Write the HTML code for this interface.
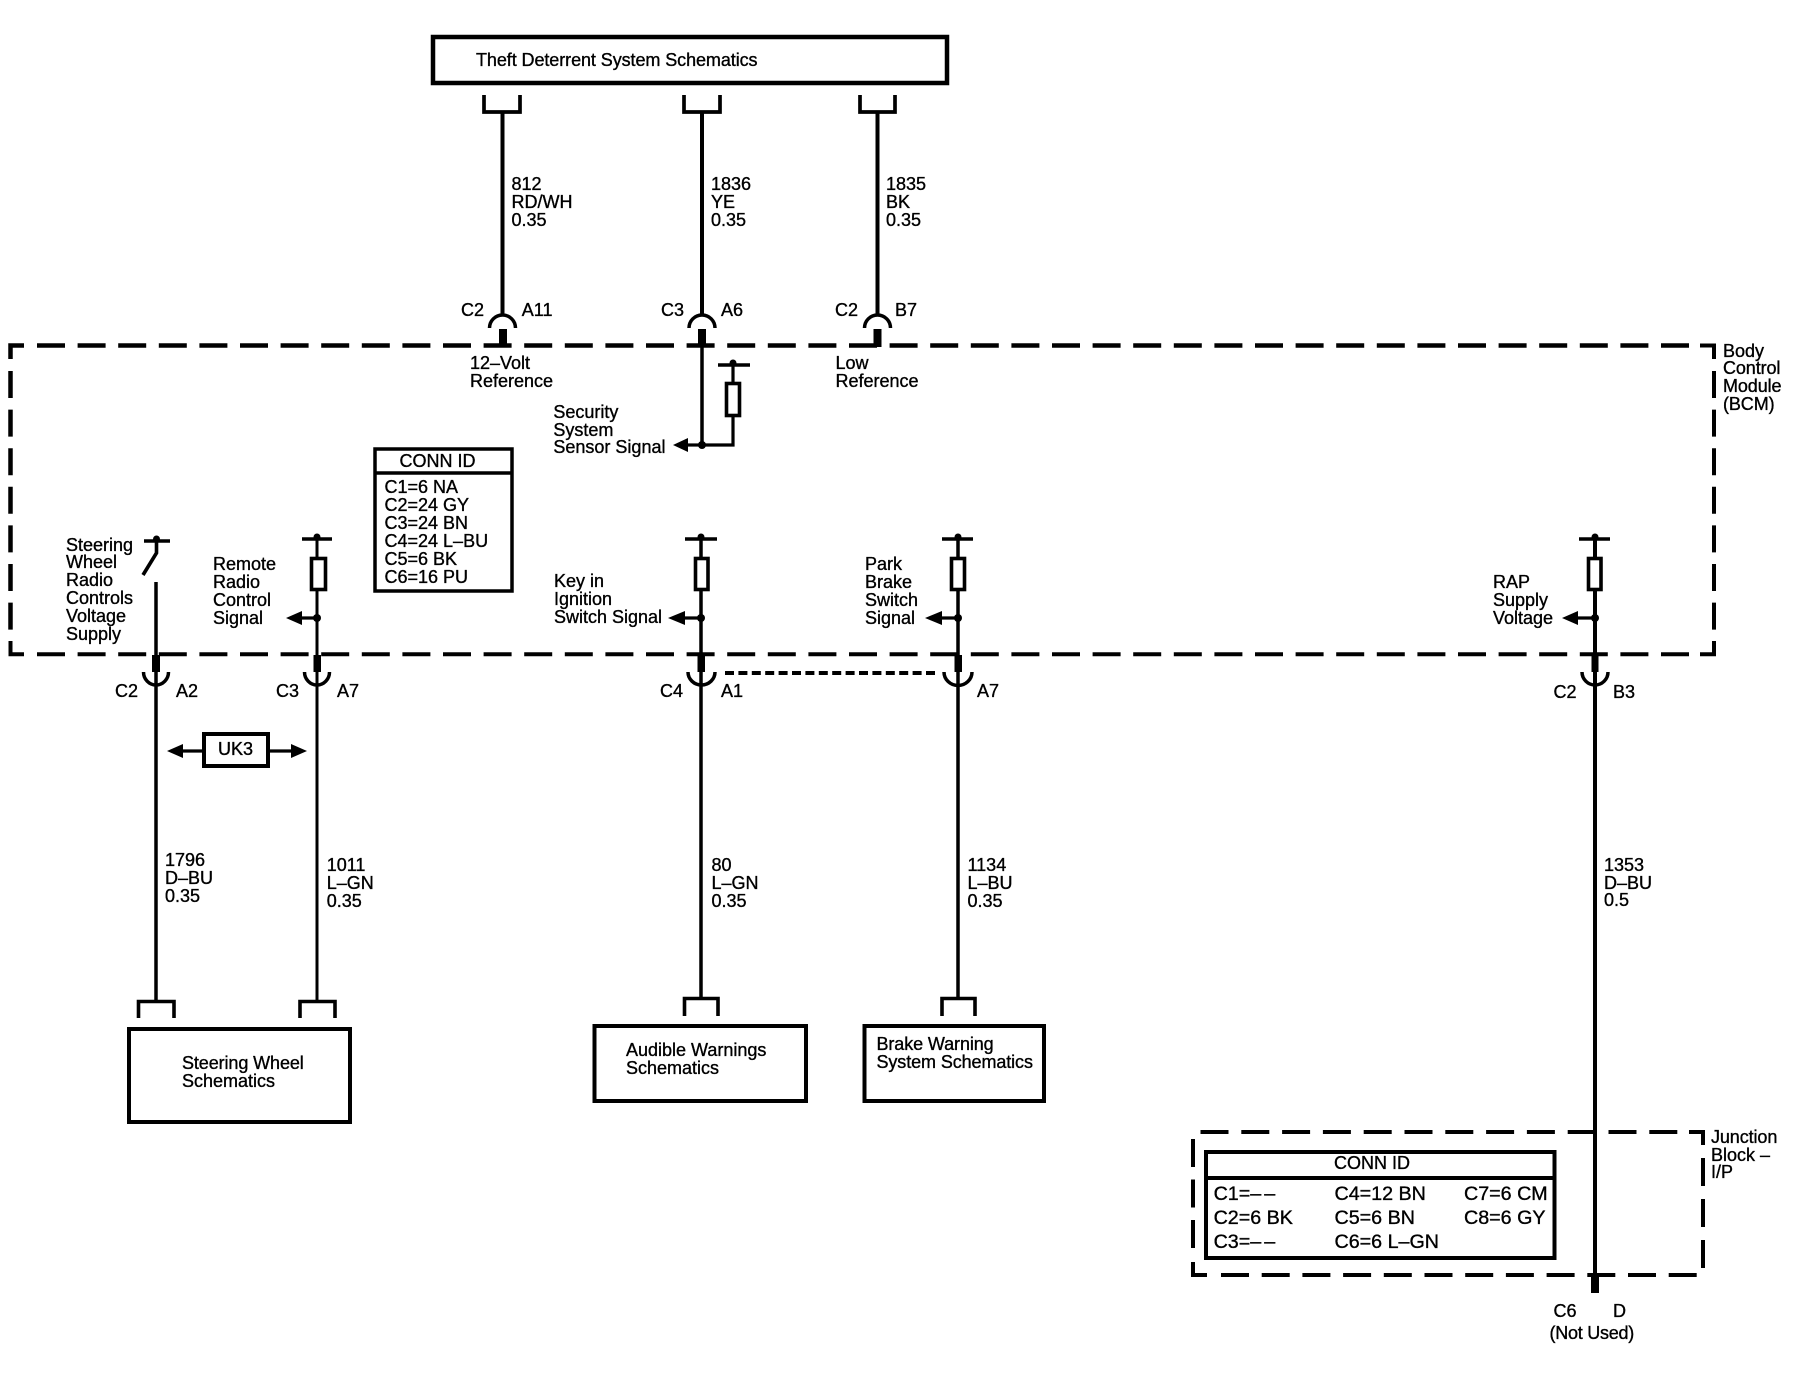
<!DOCTYPE html>
<html>
<head>
<meta charset="utf-8">
<title>Theft Deterrent System Wiring Schematic</title>
<style>
html,body{margin:0;padding:0;background:#fff}
svg{display:block}
text{font-family:"Liberation Sans",sans-serif;font-size:18px;fill:#000;stroke:#000;stroke-width:.35px}
text.b{font-size:19.7px}
text.n{letter-spacing:-.1px}
.l{fill:none;stroke:#000;stroke-linecap:butt;stroke-linejoin:miter}
.r rect{fill:#fff;stroke:#000}
</style>
</head>
<body>
<svg width="1814" height="1376" viewBox="0 0 1814 1376" xmlns="http://www.w3.org/2000/svg">
<rect width="1814" height="1376" fill="#fff"/>

<!-- BCM dashed boundary -->
<g class="l" stroke-width="4.5">
<path d="M37,345.5H1690" stroke-dasharray="28 12.6"/>
<path d="M37,654.3H1690" stroke-dasharray="28 12.6" stroke-width="4"/>
<path d="M24,345.5H10.5V359"/>
<path d="M1700,345.5H1714V359" stroke-width="4"/>
<path d="M10.5,641V654.3H24" stroke-width="4"/>
<path d="M1714,641V654.3H1700" stroke-width="4"/>
<path d="M10.5,371V630" stroke-dasharray="27 11.6"/>
<path d="M1714,371V630" stroke-dasharray="27 11.6" stroke-width="4"/>
</g>

<!-- Junction block dashed boundary -->
<g class="l" stroke-width="4">
<path d="M1200.5,1132H1680" stroke-dasharray="28 12.8"/>
<path d="M1689,1132H1703V1145"/>
<path d="M1193,1139V1250" stroke-dasharray="28 12.5"/>
<path d="M1193,1262V1275H1207"/>
<path d="M1221,1275H1697" stroke-dasharray="28 12.7"/>
<path d="M1703,1158V1269" stroke-dasharray="28 13"/>
</g>

<!-- Schematic boxes -->
<g class="l" stroke-width="4">
<rect x="433" y="37" width="514" height="46" stroke-width="4.5"/>
<rect x="129" y="1029" width="221" height="93"/>
<rect x="594.5" y="1026" width="211.5" height="75"/>
<rect x="864.5" y="1026" width="179.5" height="75"/>
<rect x="375" y="449" width="137" height="142" stroke-width="3.5"/>
<rect x="1206" y="1152" width="348.5" height="106"/>
<rect x="204" y="734" width="64" height="32"/>
</g>
<path class="l" stroke-width="3.5" d="M375,473H512"/>
<path class="l" stroke-width="4" d="M1206,1178H1554.5"/>

<!-- Top connector cups -->
<g class="l" stroke-width="3.7">
<path d="M484,95V112H520V95"/>
<path d="M684,95V112H720V95"/>
<path d="M860,95V112H895V95"/>
</g>

<!-- Wires -->
<g class="l">
<path stroke-width="4" d="M502.5,113V315"/>
<path stroke-width="4" d="M702,113V315"/>
<path stroke-width="4" d="M877.5,113V315"/>
<path stroke-width="3.5" d="M702,347V445"/>
<path stroke-width="3.2" d="M702,445H733V365"/>

<path stroke-width="3.5" d="M156,582V1000"/>
<path stroke-width="3" d="M317,539V1000"/>
<path stroke-width="3.5" d="M701,539V997"/>
<path stroke-width="3.5" d="M958,539V997"/>
<path stroke-width="4" d="M1595,539V1274"/>
</g>

<!-- Top C-connectors -->
<g class="l" stroke-width="3.5">
<path d="M489.5,328A13,13 0 0 1 515.5,328"/>
<path d="M689,328A13,13 0 0 1 715,328"/>
<path d="M864.5,328A13,13 0 0 1 890.5,328"/>
<!-- bottom C-connectors -->
<path d="M143.5,672A12.5,13 0 0 0 168.5,672"/>
<path d="M304.5,672A12.5,13 0 0 0 329.5,672"/>
<path d="M688,672A13.5,13 0 0 0 715,672"/>
<path d="M944,672A13.5,13 0 0 0 972,672"/>
<path d="M1582,672A13,13 0 0 0 1608,672"/>
</g>

<!-- Thick stubs -->
<g fill="#000">
<rect x="499" y="329" width="8" height="18"/>
<rect x="698" y="329" width="8" height="18"/>
<rect x="873.5" y="329" width="8" height="18"/>
<rect x="152" y="655" width="8" height="17"/>
<rect x="313.5" y="655" width="7.5" height="17"/>
<rect x="697.5" y="655" width="7.5" height="17"/>
<rect x="954.5" y="655" width="7.5" height="17"/>
<rect x="1591.5" y="655" width="7" height="17"/>
<rect x="1591" y="1275" width="8" height="18"/>
</g>

<!-- Dotted link -->
<path class="l" stroke-width="4" stroke-dasharray="9 4.4" d="M725,673H938"/>

<!-- Bottom cups -->
<g class="l" stroke-width="3.6">
<path d="M138.5,1018V1001.5H174V1018"/>
<path d="M300,1018V1001.5H335V1018"/>
<path d="M684.5,1016V998.5H718V1016"/>
<path d="M942,1016V998.5H975V1016"/>
</g>

<!-- Pull-up bars, resistors -->
<g class="l" stroke-width="3.6">
<path d="M144,541H170"/>
<path d="M302,539H332"/>
<path d="M685,539H717"/>
<path d="M942,539H973"/>
<path d="M1579,539H1610"/>
<path d="M718,365H750"/>
</g>
<g class="r" stroke-width="3.6">
<rect x="311.5" y="558.5" width="14" height="31"/>
<rect x="695.5" y="558.5" width="12.5" height="31"/>
<rect x="951.5" y="558.5" width="13" height="31"/>
<rect x="1588.5" y="558.5" width="12.5" height="31"/>
<rect x="726.5" y="383.5" width="13" height="32"/>
</g>

<!-- Steering switch -->
<path class="l" stroke-width="3.6" d="M156.5,541V553L143,575"/>

<!-- Arrow stems -->
<g class="l" stroke-width="3.2">
<path d="M300,618H317"/>
<path d="M683,618H701"/>
<path d="M940,618H958"/>
<path d="M1576,618H1595"/>
<path d="M686,445H702"/>
<path d="M183,751H204"/>
<path d="M268,751H292"/>
</g>

<!-- Arrowheads -->
<g fill="#000">
<polygon points="286,618 302,611 302,625"/>
<polygon points="668,618 685,611 685,625"/>
<polygon points="925,618 942,611 942,625"/>
<polygon points="1562,618 1578,611 1578,625"/>
<polygon points="673,445 688,438 688,452"/>
<polygon points="167,751 183,744 183,758"/>
<polygon points="307,751 291,744 291,758"/>
</g>

<!-- Dots -->
<g fill="#000">
<circle cx="156.5" cy="539" r="3.5"/>
<circle cx="317" cy="537" r="3.5"/>
<circle cx="701" cy="537" r="3.5"/>
<circle cx="958" cy="537" r="3.5"/>
<circle cx="1595" cy="537" r="3.5"/>
<circle cx="733" cy="363" r="3.5"/>
<circle cx="317" cy="618" r="4"/>
<circle cx="701" cy="618" r="4"/>
<circle cx="958" cy="618" r="4"/>
<circle cx="1595" cy="618" r="4"/>
<circle cx="702" cy="445" r="4"/>
</g>

<!-- Labels -->
<text x="476" y="66" style="letter-spacing:-.08px">Theft Deterrent System Schematics</text>

<text x="511.5" y="190">812</text><text x="511.5" y="208">RD/WH</text><text x="511.5" y="226">0.35</text>
<text x="711" y="190">1836</text><text x="711" y="208">YE</text><text x="711" y="226">0.35</text>
<text x="886" y="190">1835</text><text x="886" y="208">BK</text><text x="886" y="226">0.35</text>

<text x="461" y="316">C2</text><text x="521.8" y="316">A11</text>
<text x="661" y="316">C3</text><text x="721" y="316">A6</text>
<text x="835" y="316">C2</text><text x="895" y="316">B7</text>

<text x="470" y="369">12–Volt</text><text x="470" y="387">Reference</text>
<text x="835.5" y="369">Low</text><text x="835.5" y="387">Reference</text>
<text x="553.4" y="418">Security</text><text x="553.4" y="436">System</text><text x="553.4" y="453">Sensor Signal</text>

<text x="1723" y="357">Body</text><text x="1723" y="374" class="n">Control</text><text x="1723" y="392" class="n">Module</text><text x="1723" y="410" class="n">(BCM)</text>

<text x="437.5" y="467" text-anchor="middle">CONN ID</text>
<text x="384.5" y="493">C1=6 NA</text>
<text x="384.5" y="511">C2=24 GY</text>
<text x="384.5" y="529">C3=24 BN</text>
<text x="384.5" y="547">C4=24 L–BU</text>
<text x="384.5" y="565">C5=6 BK</text>
<text x="384.5" y="583">C6=16 PU</text>

<text x="66" y="551">Steering</text><text x="66" y="568">Wheel</text><text x="66" y="586">Radio</text><text x="66" y="604">Controls</text><text x="66" y="622">Voltage</text><text x="66" y="640">Supply</text>
<text x="213" y="570">Remote</text><text x="213" y="588">Radio</text><text x="213" y="606">Control</text><text x="213" y="624">Signal</text>
<text x="554" y="587">Key in</text><text x="554" y="605">Ignition</text><text x="554" y="623">Switch Signal</text>
<text x="865" y="570">Park</text><text x="865" y="588">Brake</text><text x="865" y="606">Switch</text><text x="865" y="624">Signal</text>
<text x="1493" y="588">RAP</text><text x="1493" y="606">Supply</text><text x="1493" y="624">Voltage</text>

<text x="115" y="697">C2</text><text x="176" y="697">A2</text>
<text x="276" y="697">C3</text><text x="337" y="697">A7</text>
<text x="660" y="697">C4</text><text x="721" y="697">A1</text>
<text x="977" y="697">A7</text>
<text x="1553.5" y="698">C2</text><text x="1613" y="698">B3</text>

<text x="218" y="755">UK3</text>

<text x="165" y="866">1796</text><text x="165" y="884">D–BU</text><text x="165" y="902">0.35</text>
<text x="326.7" y="871">1011</text><text x="326.7" y="889">L–GN</text><text x="326.7" y="907">0.35</text>
<text x="711.5" y="871">80</text><text x="711.5" y="889">L–GN</text><text x="711.5" y="907">0.35</text>
<text x="967.5" y="871">1134</text><text x="967.5" y="889">L–BU</text><text x="967.5" y="907">0.35</text>
<text x="1604" y="871">1353</text><text x="1604" y="889">D–BU</text><text x="1604" y="906">0.5</text>

<text x="182" y="1069" class="n">Steering Wheel</text><text x="182" y="1087">Schematics</text>
<text x="626" y="1056">Audible Warnings</text><text x="626" y="1074">Schematics</text>
<text x="876.5" y="1050" class="n">Brake Warning</text><text x="876.5" y="1068" class="n">System Schematics</text>

<text x="1711" y="1143" class="n">Junction</text><text x="1711" y="1161">Block –</text><text x="1711" y="1178">I/P</text>

<text x="1334" y="1169">CONN ID</text>
<text x="1213.6" y="1200" class="b">C1=<tspan letter-spacing="3">––</tspan></text><text x="1213.6" y="1224" class="b">C2=6 BK</text><text x="1213.6" y="1248" class="b">C3=<tspan letter-spacing="3">––</tspan></text>
<text x="1334.5" y="1200" class="b">C4=12 BN</text><text x="1334.5" y="1224" class="b">C5=6 BN</text><text x="1334.5" y="1248" class="b">C6=6 L–GN</text>
<text x="1464" y="1200" class="b">C7=6 CM</text><text x="1464" y="1224" class="b">C8=6 GY</text>

<text x="1553.5" y="1317">C6</text><text x="1613" y="1317">D</text>
<text x="1549.5" y="1339" style="letter-spacing:-.25px">(Not Used)</text>
</svg>
</body>
</html>
